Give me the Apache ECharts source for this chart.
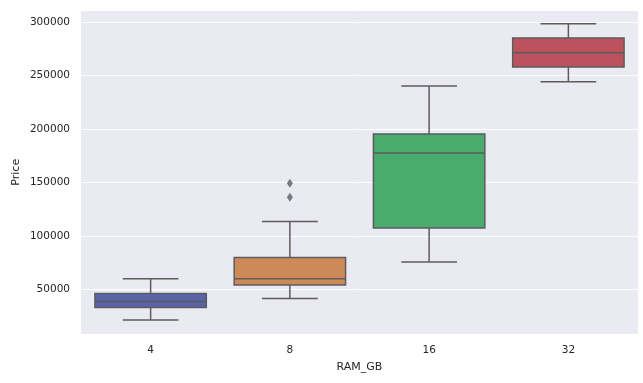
<!DOCTYPE html>
<html><head><meta charset="utf-8">
<script src="https://cdn.jsdelivr.net/npm/echarts@6/dist/echarts.min.js"></script>
<style>html,body{margin:0;padding:0;background:#fff}#c{width:643px;height:383px}</style>
</head><body><div id="c"></div>
<script>
const categories = ['4', '8', '16', '32'];
// [lower whisker, Q1, median, Q3, upper whisker]
const ram4 = [21300, 32900, 38500, 46000, 60000];
const ram8 = [41300, 54100, 60000, 79700, 113400];
const ram16 = [75600, 107500, 177700, 195400, 240400];
const ram32 = [244400, 258200, 271500, 285300, 298700];
const outliers8 = [136200, 149300];
const boxColors = ['#5a62a8', '#cd8a58', '#4aab6f', '#bc525d'];
const yMin = 7700, yMax = 311500;

const boxData = [ram4, ram8, ram16, ram32].map((v, i) => [i].concat(v));
const outlierPts = outliers8.map(v => [1, v]);
const lineCol = '#5c5c5c';

function renderBox(params, api) {
  const i = api.value(0);
  const bw = api.size([1, 0])[0] * 0.8;
  const p = k => api.coord([i, api.value(k)]);
  const lo = p(1), q1 = p(2), md = p(3), q3 = p(4), hi = p(5);
  const cx = lo[0];
  const ls = { stroke: lineCol, lineWidth: 1.5 };
  return {
    type: 'group',
    children: [
      { type: 'line', shape: { x1: cx, y1: q3[1], x2: cx, y2: hi[1] }, style: ls },
      { type: 'line', shape: { x1: cx, y1: q1[1], x2: cx, y2: lo[1] }, style: ls },
      { type: 'line', shape: { x1: cx - bw / 4, y1: hi[1], x2: cx + bw / 4, y2: hi[1] }, style: ls },
      { type: 'line', shape: { x1: cx - bw / 4, y1: lo[1], x2: cx + bw / 4, y2: lo[1] }, style: ls },
      { type: 'rect', shape: { x: cx - bw / 2, y: q3[1], width: bw, height: q1[1] - q3[1] },
        style: { fill: boxColors[i], stroke: lineCol, lineWidth: 1.5 } },
      { type: 'line', shape: { x1: cx - bw / 2, y1: md[1], x2: cx + bw / 2, y2: md[1] }, style: ls }
    ]
  };
}

const chart = echarts.init(document.getElementById('c'));
chart.setOption({
  animation: false,
  textStyle: { fontFamily: 'DejaVu Sans' },
  grid: { left: 81, right: 5, top: 10, bottom: 48.5, show: true, backgroundColor: '#eaeaf2', borderWidth: 0, containLabel: false, outerBoundsMode: 'none' },
  xAxis: {
    type: 'category', data: categories,
    axisLine: { show: false }, axisTick: { show: false },
    axisLabel: { color: '#262626', fontSize: 10.5, margin: 10 },
    splitLine: { show: false },
    name: 'RAM_GB', nameLocation: 'middle', nameGap: 27,
    nameTextStyle: { color: '#262626', fontSize: 11 }
  },
  yAxis: {
    type: 'value', min: yMin, max: yMax,
    axisLine: { show: false }, axisTick: { show: false },
    axisLabel: { color: '#262626', fontSize: 10.5, margin: 11, showMinLabel: false, showMaxLabel: false,
      formatter: v => String(v) },
    splitLine: { show: true, lineStyle: { color: '#ffffff', width: 1 } },
    name: 'Price', nameLocation: 'middle', nameGap: 59, nameRotate: 90, nameMoveOverlap: false,
    nameTextStyle: { color: '#262626', fontSize: 11 }
  },
  series: [
    {
      type: 'custom', data: boxData, renderItem: renderBox,
      encode: { x: 0, y: [1, 2, 3, 4, 5] }, silent: true
    },
    {
      type: 'scatter', data: outlierPts, symbol: 'diamond', symbolSize: [6, 9],
      itemStyle: { color: lineCol }, silent: true
    }
  ]
});
</script></body></html>
